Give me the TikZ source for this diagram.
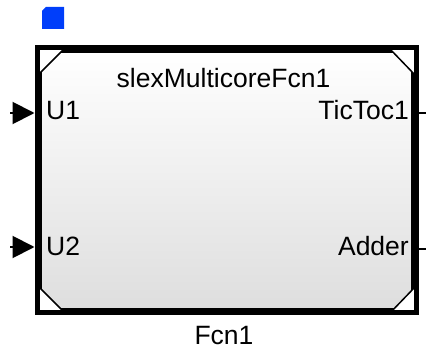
\documentclass[tikz,border=0pt]{standalone}
\usepackage{fontspec}
\setmainfont{Liberation Sans}
\definecolor{simblue}{RGB}{0, 62, 250}
\usetikzlibrary{arrows.meta, positioning, calc, shadows}

\begin{document}
\begin{tikzpicture}[x=1pt, y=1pt,
    block/.style={draw, line width=5pt, rectangle, minimum width=374pt, minimum height=260pt, inner sep=0pt,
        top color=white, bottom color=black!13, drop shadow={opacity=0.2, shadow xshift=2pt, shadow yshift=-2pt}},
    portlbl/.style={inner sep=0pt, font=\fontsize{26.5}{32}\selectfont},
    inport/.style={line width=2pt, -{Triangle[length=22pt, width=22pt]}},
    outport/.style={line width=1.5pt},
    corner/.style={line width=1.5pt, fill=white}]
\useasboundingbox (0,0) rectangle (426,351);
% sample time marker
\fill[simblue] (42,322) -- (42,340) -- (46,344) -- (64,344) -- (64,322) -- cycle;
% subsystem block
\node[block] (fcn) at (226.5,170.5) {};
\draw[corner] (fcn.north west) -- ++(28,0) -- ($(fcn.north west)+(0,-28)$) -- cycle;
\draw[corner] (fcn.north east) -- ++(-27,0) -- ($(fcn.north east)+(0,-28)$) -- cycle;
\draw[corner] (fcn.south west) -- ++(28,0) -- ($(fcn.south west)+(0,28)$) -- cycle;
\draw[corner] (fcn.south east) -- ++(-26,0) -- ($(fcn.south east)+(0,27)$) -- cycle;
\draw[line width=5pt] (fcn.north west) rectangle (fcn.south east);
% labels
\node[portlbl, anchor=base] (title) at ($(fcn.north)+(-3,-40)$) {slexMulticoreFcn1};
\node[portlbl, anchor=base west] (u1) at ($(fcn.north west)+(9,-71.5)$) {U1};
\node[portlbl, anchor=base west] (u2) at ($(fcn.north west)+(9,-207.5)$) {U2};
\node[portlbl, anchor=base east] (tictoc) at ($(fcn.north east)+(-7,-71.5)$) {TicToc1};
\node[portlbl, anchor=base east] (adder) at ($(fcn.north east)+(-7,-207.5)$) {Adder};
\node[portlbl, anchor=base] (name) at (224,6) {Fcn1};
% ports
\coordinate (in1) at (10,238);
\coordinate (in2) at (10,104);
\coordinate (out1) at (426,238);
\coordinate (out2) at (426,102);
\draw[inport] (in1) -- ($(in1 -| fcn.west)+(-2.5,0)$);
\draw[inport] (in2) -- ($(in2 -| fcn.west)+(-2.5,0)$);
\draw[outport] ($(out1 -| fcn.east)+(2.5,0)$) -- (out1);
\draw[outport] ($(out2 -| fcn.east)+(2.5,0)$) -- (out2);
\end{tikzpicture}
\end{document}
